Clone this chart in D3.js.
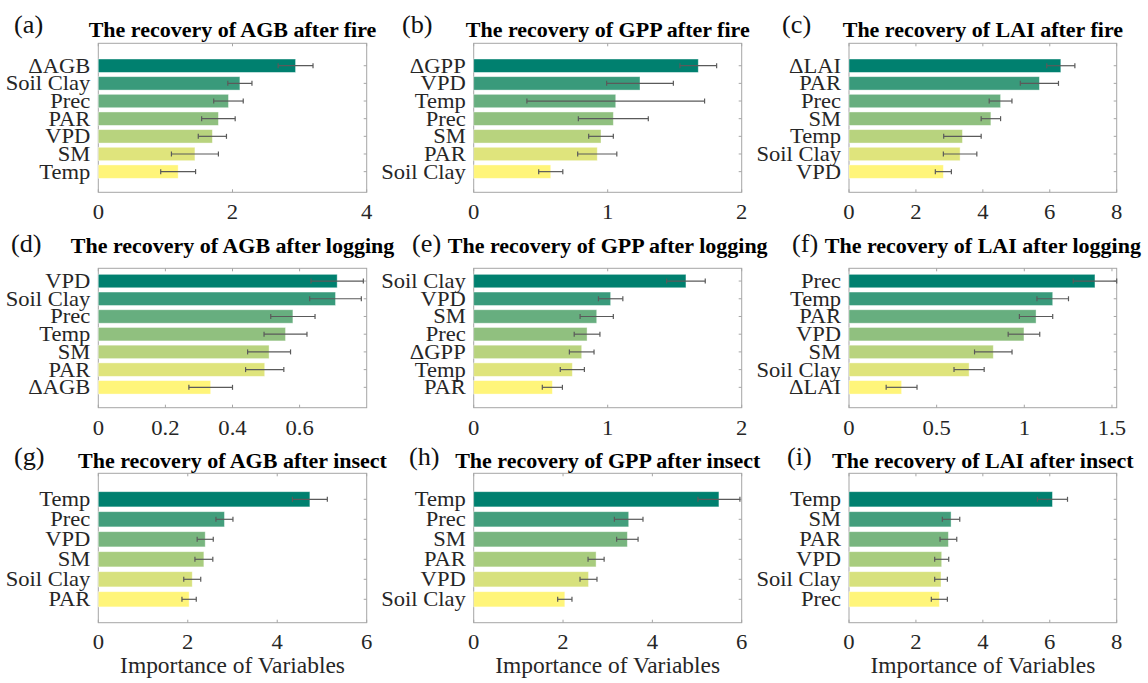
<!DOCTYPE html>
<html>
<head>
<meta charset="utf-8">
<script src="https://cdn.jsdelivr.net/npm/d3@7"></script>
<style>
  body { margin: 0; background: #fff; }
  svg { display: block; }
</style>
</head>
<body>
<script>
// variable names and importance values (mean, half error) per panel
var namesA = ["ΔAGB", "Soil Clay", "Prec", "PAR", "VPD", "SM", "Temp"];
var valsA  = [2.94, 2.11, 1.94, 1.79, 1.70, 1.44, 1.19];
var errsA  = [0.26, 0.18, 0.22, 0.25, 0.21, 0.35, 0.26];

var namesB = ["ΔGPP", "VPD", "Temp", "Prec", "SM", "PAR", "Soil Clay"];
var valsB  = [1.676, 1.241, 1.06, 1.042, 0.95, 0.922, 0.575];
var errsB  = [0.137, 0.249, 0.663, 0.261, 0.092, 0.146, 0.09];

var namesC = ["ΔLAI", "PAR", "Prec", "SM", "Temp", "Soil Clay", "VPD"];
var valsC  = [6.33, 5.69, 4.53, 4.24, 3.39, 3.32, 2.82];
var errsC  = [0.42, 0.57, 0.34, 0.29, 0.56, 0.50, 0.24];

var namesD = ["VPD", "Soil Clay", "Prec", "Temp", "SM", "PAR", "ΔAGB"];
var valsD  = [0.712, 0.707, 0.580, 0.558, 0.509, 0.496, 0.335];
var errsD  = [0.078, 0.077, 0.066, 0.064, 0.064, 0.057, 0.065];

var namesE = ["Soil Clay", "VPD", "SM", "Prec", "ΔGPP", "Temp", "PAR"];
var valsE  = [1.584, 1.022, 0.918, 0.846, 0.806, 0.736, 0.587];
var errsE  = [0.144, 0.091, 0.124, 0.096, 0.092, 0.09, 0.075];

var namesF = ["Prec", "Temp", "PAR", "VPD", "SM", "Soil Clay", "ΔLAI"];
var valsF  = [1.403, 1.162, 1.067, 0.998, 0.823, 0.685, 0.30];
var errsF  = [0.124, 0.09, 0.095, 0.09, 0.107, 0.086, 0.088];

var namesG = ["Temp", "Prec", "VPD", "SM", "Soil Clay", "PAR"];
var valsG  = [4.73, 2.82, 2.39, 2.36, 2.10, 2.03];
var errsG  = [0.39, 0.19, 0.18, 0.20, 0.19, 0.16];

var namesH = ["Temp", "Prec", "SM", "PAR", "VPD", "Soil Clay"];
var valsH  = [5.49, 3.47, 3.44, 2.74, 2.57, 2.04];
var errsH  = [0.47, 0.32, 0.24, 0.18, 0.19, 0.16];

var namesI = ["Temp", "SM", "PAR", "VPD", "Soil Clay", "Prec"];
var valsI  = [6.08, 3.05, 2.97, 2.77, 2.75, 2.70];
var errsI  = [0.45, 0.26, 0.25, 0.21, 0.19, 0.24];

var titles = [
  "The recovery of AGB after fire", "The recovery of GPP after fire", "The recovery of LAI after fire",
  "The recovery of AGB after logging", "The recovery of GPP after logging", "The recovery of LAI after logging",
  "The recovery of AGB after insect", "The recovery of GPP after insect", "The recovery of LAI after insect"
];
var letters = ["(a)", "(b)", "(c)", "(d)", "(e)", "(f)", "(g)", "(h)", "(i)"];
var xMax   = [4, 2, 8, 0.8, 2, 1.527, 6, 6, 8];
var xTicks = [[0, 2, 4], [0, 1, 2], [0, 2, 4, 6, 8],
              [0, 0.2, 0.4, 0.6], [0, 1, 2], [0, 0.5, 1, 1.5],
              [0, 2, 4, 6], [0, 2, 4, 6], [0, 2, 4, 6, 8]];
var xLabel = "Importance of Variables";

var panels = [
  [namesA, valsA, errsA], [namesB, valsB, errsB], [namesC, valsC, errsC],
  [namesD, valsD, errsD], [namesE, valsE, errsE], [namesF, valsF, errsF],
  [namesG, valsG, errsG], [namesH, valsH, errsH], [namesI, valsI, errsI]
];

// layout
var W = 1148, H = 683;
var colL = [98.3, 473.7, 849], colR = [366.7, 741.7, 1116.7];
var rowT = [43.3, 268.3, 473.3], rowB = [192.3, 407.7, 622.7];
var padTop = [1.27, 0.72, 1.3], padBot = [1.17, 1.15, 1.17];
var labelX = [14, 402, 782, 11, 412, 792, 14, 409, 787];
var labelY = [33, 252, 465];
var titleY = [37, 253, 468];
var tickY = [27, 27, 26];
var serif = "'Liberation Serif', 'Times New Roman', serif";

var cmap = d3.interpolateRgbBasis(["#00806f", "#3b9b7c", "#68ae80", "#90c07e", "#b8d47f", "#e0e47c", "#fff57a"]);

var svg = d3.select("body").append("svg").attr("width", W).attr("height", H);

function label(g, x, y, str, size, weight, anchor, fill, sx) {
  g.append("text")
    .attr("transform", "translate(" + x + "," + y + ") scale(" + sx + ",1)")
    .attr("text-anchor", anchor)
    .style("font-family", serif)
    .style("font-size", size + "px")
    .style("font-weight", weight)
    .attr("fill", fill)
    .text(str);
}

panels.forEach(function(p, k) {
  var r = Math.floor(k / 3), c = k % 3;
  var names = p[0], vals = p[1], errs = p[2], n = names.length;
  var x = d3.scaleLinear().domain([0, xMax[k]]).range([colL[c], colR[c]]);
  var y = d3.scaleLinear().domain([-padTop[r], n - 1 + padBot[r]]).range([rowT[r], rowB[r]]);
  var step = y(1) - y(0), bh = step * 0.76;
  var g = svg.append("g");

  // box
  g.append("rect")
    .attr("x", colL[c]).attr("y", rowT[r])
    .attr("width", colR[c] - colL[c]).attr("height", rowB[r] - rowT[r])
    .attr("fill", "none").attr("stroke", "#a6a6a6").attr("stroke-width", 1);

  // inward ticks, top/bottom and right
  xTicks[k].forEach(function(t) {
    g.append("line").attr("x1", x(t)).attr("x2", x(t)).attr("y1", rowB[r]).attr("y2", rowB[r] - 3)
      .attr("stroke", "#a6a6a6");
    g.append("line").attr("x1", x(t)).attr("x2", x(t)).attr("y1", rowT[r]).attr("y2", rowT[r] + 3)
      .attr("stroke", "#a6a6a6");
  });
  d3.range(n).forEach(function(i) {
    g.append("line").attr("x1", colR[c]).attr("x2", colR[c] - 3).attr("y1", y(i)).attr("y2", y(i))
      .attr("stroke", "#a6a6a6");
  });

  // bars
  g.selectAll("rect.bar").data(vals).enter().append("rect")
    .attr("class", "bar")
    .attr("x", x(0))
    .attr("y", function(d, i) { return y(i) - bh / 2; })
    .attr("width", function(d) { return x(d) - x(0); })
    .attr("height", bh)
    .attr("fill", function(d, i) { return cmap(i / (n - 1)); })
    .attr("stroke", "#ffffff").attr("stroke-opacity", 0.5).attr("stroke-width", 0.8);

  // error bars
  var eg = g.selectAll("g.err").data(vals).enter().append("g").attr("class", "err")
    .attr("stroke", "#5a5a5a").attr("stroke-width", 1.2);
  eg.append("line")
    .attr("x1", function(d, i) { return x(d - errs[i]); })
    .attr("x2", function(d, i) { return x(d + errs[i]); })
    .attr("y1", function(d, i) { return y(i); }).attr("y2", function(d, i) { return y(i); });
  eg.append("line")
    .attr("x1", function(d, i) { return x(d - errs[i]); })
    .attr("x2", function(d, i) { return x(d - errs[i]); })
    .attr("y1", function(d, i) { return y(i) - 2.5; }).attr("y2", function(d, i) { return y(i) + 2.5; });
  eg.append("line")
    .attr("x1", function(d, i) { return x(d + errs[i]); })
    .attr("x2", function(d, i) { return x(d + errs[i]); })
    .attr("y1", function(d, i) { return y(i) - 2.5; }).attr("y2", function(d, i) { return y(i) + 2.5; });

  // tick labels
  names.forEach(function(nm, i) {
    label(g, colL[c] - 8, y(i) + 7, nm, 20.5, "normal", "end", "#262626", 1.1);
  });
  xTicks[k].forEach(function(t) {
    label(g, x(t), rowB[r] + tickY[r], String(t), 21, "normal", "middle", "#262626", 1.08);
  });

  // title and panel letter
  label(g, (colL[c] + colR[c]) / 2, titleY[r], titles[k], 20, "bold", "middle", "#000", 1.1);
  label(g, labelX[k], labelY[r], letters[k], 25, "normal", "start", "#111", 1.05);

  if (r == 2) {
    label(g, (colL[c] + colR[c]) / 2, 673, xLabel, 23, "normal", "middle", "#262626", 1.02);
  }
});
</script>
</body>
</html>
